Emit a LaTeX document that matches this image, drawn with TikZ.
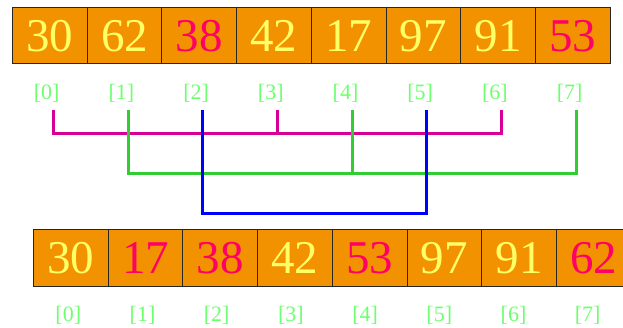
\documentclass[tikz,border=0pt]{standalone}
\usepackage{fontspec}
\setmainfont{Liberation Serif}
\definecolor{boxor}{RGB}{243,146,0}
\definecolor{numyel}{RGB}{255,255,102}
\definecolor{numred}{RGB}{255,0,102}
\definecolor{idxgreen}{RGB}{110,255,110}
\definecolor{lnpink}{RGB}{214,0,150}
\definecolor{lngreen}{RGB}{50,205,50}
\definecolor{lnblue}{RGB}{0,0,255}
\begin{document}
\begin{tikzpicture}[x=1pt,y=-1pt,
  cell/.style={draw=black!85, line width=1pt, fill=boxor, minimum width=74.7pt,
    minimum height=56.5pt, inner sep=0pt, font=\fontsize{47}{50}\selectfont, anchor=north west},
  idx/.style={text=idxgreen, font=\fontsize{22}{24}\selectfont, inner sep=0pt},
  link/.style={line width=3pt, line join=miter}]
\useasboundingbox (0,0) rectangle (623,328);
% top row
\foreach \v/\c [count=\i from 0] in {30/numyel,62/numyel,38/numred,42/numyel,17/numyel,97/numyel,91/numyel,53/numred}{
  \node[cell, text=\c] (t\i) at ({12+74.7*\i},7) {\v};
  \node[idx] (tl\i) at ({46.7+74.7*\i},93) {[\i]};
}
% bottom row
\foreach \v/\c [count=\i from 0] in {30/numyel,17/numred,38/numred,42/numyel,53/numred,97/numyel,91/numyel,62/numred}{
  \node[cell, text=\c] (b\i) at ({33+74.7*\i},229.5) {\v};
  \node[idx] (bl\i) at ({68.3+74.2*\i},315) {[\i]};
}
% tick coordinates
\foreach \i in {0,...,7}{
  \coordinate (k\i) at ({53.3+74.7*\i},110);
}
% pink group: 0,3,6
\draw[link, lnpink] (k0) -- ++(0,23.3) -| (k6);
\draw[link, lnpink] (k3) -- ++(0,23.3);
% green group: 1,4,7
\draw[link, lngreen] (k1) -- ++(0,63.3) -| (k7);
\draw[link, lngreen] (k4) -- ++(0,63.3);
% blue group: 2,5
\draw[link, lnblue] (k2) -- ++(0,103.5) -| (k5);
\end{tikzpicture}
\end{document}
